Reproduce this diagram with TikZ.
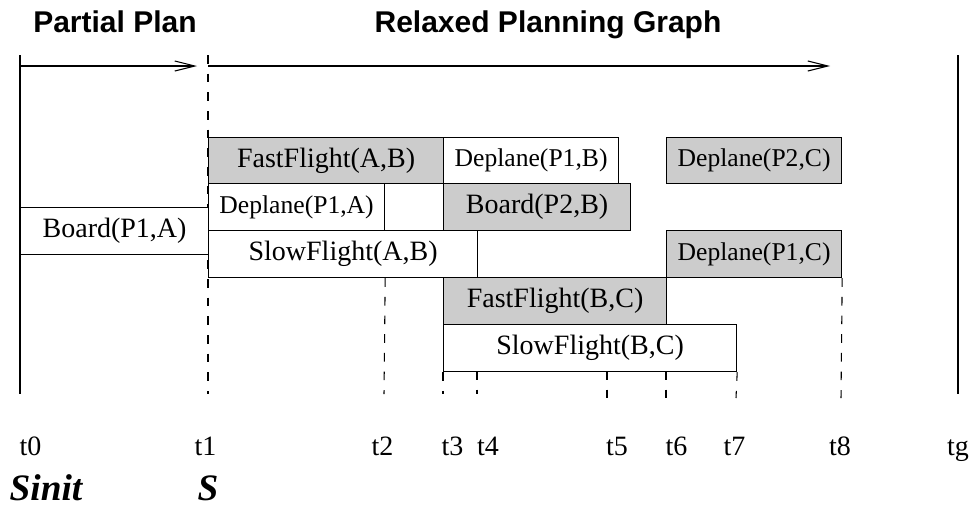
\documentclass[tikz,border=0pt]{standalone}
\usepackage{fontspec}
\setmainfont{Liberation Serif}
\setsansfont{Liberation Sans}
\usetikzlibrary{arrows.meta}
\definecolor{actgray}{RGB}{204,204,204}
\tikzset{
  act/.style={draw, line width=0.9pt, fill=white, inner sep=0pt, anchor=north west,
    font=\fontsize{21}{24}\selectfont},
  small/.style={font=\fontsize{19.2}{22}\selectfont},
  shaded/.style={fill=actgray},
  timeline/.style={line width=0.8pt},
  future/.style={line width=0.8pt, dash pattern=on 6.5pt off 7.5pt},
  span/.style={line width=0.8pt, -{Straight Barb[length=15pt,width=7.5pt]}},
  tick/.style={font=\fontsize{21}{24}\selectfont, anchor=base},
  head/.style={font=\sffamily\bfseries\fontsize{22.5}{26}\selectfont, anchor=base},
  state/.style={font=\bfseries\itshape\fontsize{28}{32}\selectfont, anchor=base west}
}
% activity box: [options]{name}{x1}{y1}{x2}{y2}{label}
\newcommand\actbox[7][]{%
  \node[act,#1,minimum width={(#5-#3)*0.75pt},minimum height={(#6-#4)*0.75pt}] (#2) at (#3,#4) {#7};}

\begin{document}
\begin{tikzpicture}[x=0.75pt,y=-0.75pt]
\useasboundingbox (0,0) rectangle (969,529);

% headings
\node[head] (hpp) at (115,32) {Partial Plan};
\node[head] (hrpg) at (548,32) {Relaxed Planning Graph};

% time points
\coordinate (t0top) at (20,55);   \coordinate (t0bot) at (20,394);
\coordinate (tgtop) at (958,55);  \coordinate (tgbot) at (958,394);
\coordinate (t1top) at (208,55);  \coordinate (t1bot) at (208,394);
\coordinate (a0s) at (20,66);     \coordinate (a0e) at (197,66);
\coordinate (a1s) at (208,66);    \coordinate (a1e) at (830,66);

\draw[timeline] (t0top) -- (t0bot);
\draw[timeline] (tgtop) -- (tgbot);
\draw[future] (t1top) -- (t1bot);
\draw[span] (a0s) -- (a0e);
\draw[span] (a1s) -- (a1e);

% activities
\actbox[shaded]{ffab}{208}{137}{443}{183}{FastFlight(A,B)}
\actbox[small]{dpb}{443}{137}{618}{183}{Deplane(P1,B)}
\actbox[small,shaded]{dp2c}{666}{137}{841}{183}{Deplane(P2,C)}
\actbox[small]{dpa}{208}{183}{384}{230}{Deplane(P1,A)}
\actbox[shaded]{bp2b}{443}{183}{630}{230}{Board(P2,B)}
\actbox{bp1a}{20}{207}{208}{254}{Board(P1,A)}
\actbox{sfab}{208}{230}{477}{277}{SlowFlight(A,B)}
\actbox[small,shaded]{dpc}{666}{230}{841}{277}{Deplane(P1,C)}
\actbox[shaded]{ffbc}{443}{277}{666}{324}{FastFlight(B,C)}
\actbox{sfbc}{443}{324}{736}{371}{SlowFlight(B,C)}

% dashed drops to the time axis
\coordinate (t2bot) at (384,394);
\coordinate (t3bot) at (443,394);
\coordinate (t4top) at (477,371); \coordinate (t4bot) at (477,394);
\coordinate (t5top) at (607,371); \coordinate (t5bot) at (607,398);
\coordinate (t6top) at (666,371); \coordinate (t6bot) at (666,398);
\coordinate (t7bot) at (736,398);
\coordinate (t8bot) at (841,398);
\draw[future] (dpa.south east |- sfab.south) -- (t2bot);
\draw[future] (sfbc.south west) -- (t3bot);
\draw[future] (t4top) -- (t4bot);
\draw[future] (t5top) -- (t5bot);
\draw[future] (t6top) -- (t6bot);
\draw[future] (sfbc.south east) -- (t7bot);
\draw[future] (dpc.south east) -- (t8bot);

% time labels
\node[tick] (lt0) at (30.5,455) {t0};
\node[tick] (lt1) at (205.5,455) {t1};
\node[tick] (lt2) at (382.5,455) {t2};
\node[tick] (lt3) at (452.5,455) {t3};
\node[tick] (lt4) at (488,455) {t4};
\node[tick] (lt5) at (617,455) {t5};
\node[tick] (lt6) at (676.5,455) {t6};
\node[tick] (lt7) at (734.5,455) {t7};
\node[tick] (lt8) at (840,455) {t8};
\node[tick] (ltg) at (958,455) {tg};

% states
\node[state] (sinit) at (5,500) {Sinit};
\node[state] (scur) at (193,500) {S};
\end{tikzpicture}
\end{document}
